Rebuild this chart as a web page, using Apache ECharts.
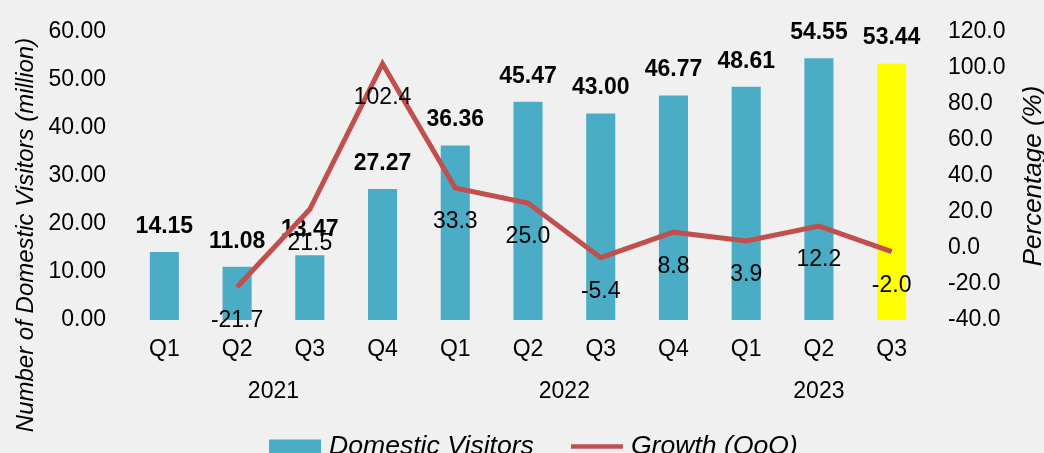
<!DOCTYPE html>
<html>
<head>
<meta charset="utf-8">
<script src="https://cdn.jsdelivr.net/npm/echarts@6/dist/echarts.min.js"></script>
<style>
html,body{margin:0;padding:0;background:#f0f0f0;}
#c{width:1044px;height:453px;}
</style>
</head>
<body>
<div id="c"></div>
<script>
var quarters = ['Q1','Q2','Q3','Q4','Q1','Q2','Q3','Q4','Q1','Q2','Q3'];
var years = ['2021','2022','2023'];
var quartersPerYear = [4,4,3];
var visitors = [14.15, 11.08, 13.47, 27.27, 36.36, 45.47, 43.00, 46.77, 48.61, 54.55, 53.44];
var growth = [null, -21.7, 21.5, 102.4, 33.3, 25.0, -5.4, 8.8, 3.9, 12.2, -2.0];
var leftTicks = {min:0, max:60, interval:10};
var rightTicks = {min:-40, max:120, interval:20};

var yearCenters = [];
var start = 0;
quartersPerYear.forEach(function(n){ yearCenters.push(start + (n-1)/2); start += n; });

var FONT = '"Liberation Sans", Arial, sans-serif';
var chart = echarts.init(document.getElementById('c'));
var barData = visitors.map(function(v,i){
  return i === visitors.length-1 ? {value:v, itemStyle:{color:'#ffff00'}} : v;
});
chart.setOption({
  backgroundColor:'#f0f0f0',
  animation:false,
  textStyle:{fontFamily:FONT},
  grid:{left:128, right:116, top:32, bottom:133, containLabel:false, outerBoundsMode:'none'},
  legend:{
    top:428, left:264, itemWidth:52, itemHeight:14, itemGap:37,
    textStyle:{fontFamily:FONT, fontSize:26.6, fontStyle:'italic', color:'#000', padding:[0,0,0,3]},
    data:[{name:'Domestic Visitors', icon:'rect'},
          {name:'Growth (QoQ)', icon:'path://M0,0 L56,0 L56,5 L0,5 Z', itemStyle:{color:'#c0504d'}}]
  },
  xAxis:[{
    type:'category', data:quarters,
    axisLine:{show:false}, axisTick:{show:false},
    axisLabel:{fontSize:23, color:'#000', margin:18, fontFamily:FONT}
  },{
    type:'value', min:-0.5, max:quarters.length-0.5, position:'bottom',
    axisLine:{show:false}, axisTick:{show:false}, splitLine:{show:false},
    axisLabel:{customValues:yearCenters, fontSize:23, color:'#000', margin:60, fontFamily:FONT,
      formatter:function(v){ var i = yearCenters.indexOf(v); return i>=0 ? years[i] : ''; }}
  }],
  yAxis:[{
    type:'value', min:leftTicks.min, max:leftTicks.max, interval:leftTicks.interval,
    axisLine:{show:false}, axisTick:{show:false}, splitLine:{show:false},
    axisLabel:{fontSize:23, color:'#000', margin:22, fontFamily:FONT, formatter:function(v){return v.toFixed(2);}}
  },{
    type:'value', min:rightTicks.min, max:rightTicks.max, interval:rightTicks.interval,
    axisLine:{show:false}, axisTick:{show:false}, splitLine:{show:false},
    axisLabel:{fontSize:23, color:'#000', margin:20, fontFamily:FONT, formatter:function(v){return v.toFixed(1);}},
    name:'Percentage (%)', nameLocation:'middle', nameRotate:90, nameGap:93,
    nameTextStyle:{fontSize:26, fontStyle:'italic', color:'#000', fontFamily:FONT}
  }],
  graphic:[{
    type:'text', x:26, y:235, rotation:Math.PI/2,
    style:{text:'Number of Domestic Visitors (million)', font:'italic 24px ' + FONT, fill:'#000',
      align:'center', verticalAlign:'middle'}
  }],
  series:[{
    name:'Domestic Visitors', type:'bar', data:barData, barWidth:'40%',
    itemStyle:{color:'#4bacc6'},
    label:{show:true, position:'top', distance:14, fontSize:23, fontWeight:'bold', color:'#000', fontFamily:FONT,
      formatter:function(p){return p.value.toFixed(2);}}
  },{
    name:'Growth (QoQ)', type:'line', yAxisIndex:1, data:growth,
    symbol:'circle', symbolSize:1, showSymbol:true, connectNulls:false,
    lineStyle:{color:'#c0504d', width:5, join:'miter'}, itemStyle:{color:'#c0504d'},
    label:{show:true, position:'bottom', distance:22, fontSize:23, color:'#000', fontFamily:FONT,
      formatter:function(p){return p.value==null?'':p.value.toFixed(1);}},
    z:3
  }]
});
</script>
</body>
</html>
